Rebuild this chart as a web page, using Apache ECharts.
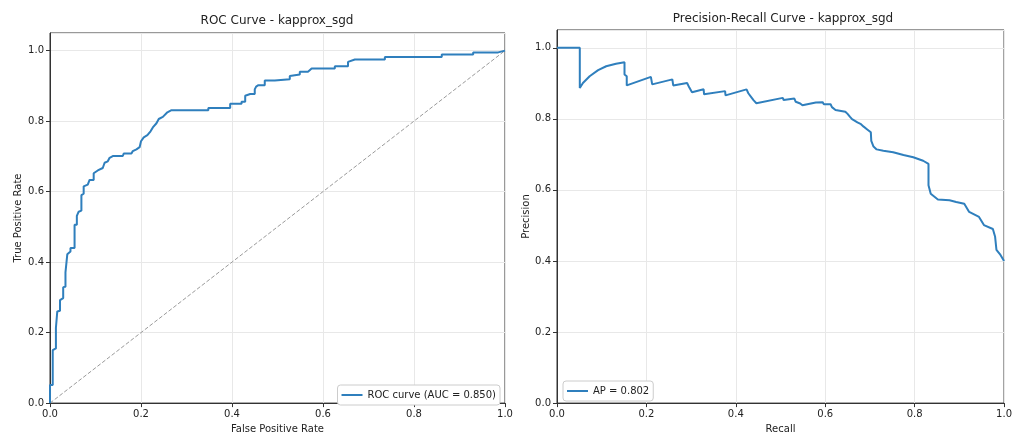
<!DOCTYPE html>
<html>
<head>
<meta charset="utf-8">
<script src="https://cdn.jsdelivr.net/npm/echarts@6/dist/echarts.min.js"></script>
<style>
  html, body { margin: 0; padding: 0; background: #fff; }
  #chart { width: 1015px; height: 439px; }
</style>
</head>
<body>
<div id="chart"></div>
<script>
// ROC 曲线顶点 (假阳率, 真阳率)
const rocFpr = [0, 0, 0.006, 0.006, 0.013, 0.013, 0.016, 0.016, 0.022, 0.022, 0.029, 0.029, 0.034, 0.034,
  0.038, 0.038, 0.045, 0.045, 0.054, 0.054, 0.059, 0.059, 0.063, 0.063, 0.069, 0.069, 0.074, 0.074, 0.083,
  0.087, 0.087, 0.096, 0.096, 0.1, 0.105, 0.109, 0.116, 0.12, 0.127, 0.131, 0.138, 0.16, 0.162, 0.179,
  0.182, 0.19, 0.197, 0.2, 0.206, 0.214, 0.221, 0.226, 0.234, 0.239, 0.248, 0.258, 0.267, 0.348, 0.348,
  0.396, 0.396, 0.421, 0.421, 0.429, 0.429, 0.44, 0.45, 0.45, 0.453, 0.458, 0.472, 0.472, 0.494, 0.494,
  0.527, 0.527, 0.549, 0.549, 0.567, 0.567, 0.575, 0.626, 0.626, 0.655, 0.655, 0.67, 0.736, 0.736, 0.861,
  0.861, 0.93, 0.93, 0.985, 0.985, 1.0];
const rocTpr = [0, 0.051, 0.051, 0.15, 0.155, 0.213, 0.213, 0.26, 0.262, 0.292, 0.298, 0.329, 0.33, 0.371,
  0.373, 0.422, 0.43, 0.44, 0.44, 0.506, 0.506, 0.531, 0.535, 0.543, 0.546, 0.59, 0.594, 0.615, 0.62,
  0.62, 0.633, 0.633, 0.652, 0.655, 0.66, 0.664, 0.667, 0.682, 0.686, 0.696, 0.701, 0.701, 0.708, 0.708,
  0.715, 0.72, 0.726, 0.743, 0.754, 0.76, 0.771, 0.782, 0.794, 0.806, 0.812, 0.825, 0.831, 0.831, 0.837,
  0.837, 0.849, 0.849, 0.855, 0.855, 0.872, 0.877, 0.877, 0.89, 0.898, 0.902, 0.902, 0.915, 0.915, 0.919,
  0.919, 0.928, 0.932, 0.94, 0.94, 0.945, 0.949, 0.949, 0.956, 0.956, 0.968, 0.975, 0.975, 0.982, 0.982,
  0.989, 0.989, 0.995, 0.995, 1.0, 1.0];
// 对角参考线
const diagX = [0, 1];
const diagY = [0, 1];
// PR 曲线顶点 (召回率, 精确率)
const prRecall = [0, 0.051, 0.051, 0.058, 0.073, 0.092, 0.11, 0.132, 0.151, 0.151, 0.156, 0.156, 0.21,
  0.213, 0.258, 0.26, 0.291, 0.296, 0.302, 0.328, 0.329, 0.376, 0.377, 0.424, 0.428, 0.434, 0.44, 0.446,
  0.505, 0.507, 0.531, 0.534, 0.544, 0.549, 0.579, 0.594, 0.597, 0.612, 0.615, 0.623, 0.627, 0.645, 0.65,
  0.655, 0.66, 0.672, 0.68, 0.686, 0.694, 0.702, 0.703, 0.708, 0.715, 0.73, 0.752, 0.775, 0.797, 0.808,
  0.819, 0.831, 0.831, 0.836, 0.852, 0.878, 0.893, 0.911, 0.922, 0.944, 0.955, 0.975, 0.98, 0.983, 0.992,
  1.0];
const prPrecision = [1.0, 1.0, 0.887, 0.901, 0.92, 0.937, 0.948, 0.955, 0.959, 0.925, 0.92, 0.894, 0.918,
  0.897, 0.911, 0.894, 0.901, 0.888, 0.875, 0.883, 0.869, 0.878, 0.866, 0.883, 0.872, 0.862, 0.852, 0.844,
  0.859, 0.853, 0.857, 0.848, 0.843, 0.838, 0.846, 0.847, 0.841, 0.841, 0.833, 0.825, 0.82, 0.82, 0.814,
  0.806, 0.799, 0.79, 0.785, 0.778, 0.77, 0.762, 0.738, 0.722, 0.714, 0.71, 0.706, 0.698, 0.692, 0.687,
  0.682, 0.673, 0.613, 0.589, 0.573, 0.571, 0.566, 0.561, 0.538, 0.524, 0.501, 0.49, 0.468, 0.431, 0.417,
  0.40];
// 刻度
const ticks = [0, 0.2, 0.4, 0.6, 0.8, 1.0];
const rocName = 'ROC curve (AUC = 0.850)';
const prName = 'AP = 0.802';

function zip(xs, ys) {
  return xs.map((x, i) => [x, ys[i]]);
}

const font = 'DejaVu Sans';
const textColor = '#222';
const lineColor = '#2f7fbd';

// 坐标轴公共配置
function axis(gridIndex, name, nameGap, max, isY) {
  return {
    type: 'value',
    gridIndex: gridIndex,
    min: 0,
    max: max,
    interval: 0.2,
    name: name,
    nameLocation: 'middle',
    nameGap: nameGap,
    nameTextStyle: { fontFamily: font, fontSize: 10, color: textColor },
    axisLine: { show: true, onZero: false, lineStyle: { color: '#333', width: 1 } },
    axisTick: { show: true, length: 4, lineStyle: { color: '#333' } },
    axisLabel: {
      fontFamily: font,
      fontSize: 10,
      color: textColor,
      margin: 6,
      showMaxLabel: isY ? false : true,
      formatter: function (v) {
        return ticks.some(t => Math.abs(t - v) < 1e-6) ? v.toFixed(1) : '';
      }
    },
    splitLine: { show: true, lineStyle: { color: '#e8e8e8', width: 1 } }
  };
}

// 图例公共配置
function legend(name, pos) {
  return Object.assign({
    data: [name],
    orient: 'vertical',
    icon: 'rect',
    itemWidth: 21, itemHeight: 2,
    padding: [5, 4, 5, 4],
    borderColor: '#ccc', borderWidth: 1, borderRadius: 3,
    backgroundColor: '#fff',
    textStyle: { fontFamily: font, fontSize: 10, color: textColor }
  }, pos);
}

const chart = echarts.init(document.getElementById('chart'), null, { renderer: 'canvas' });

const option = {
  backgroundColor: '#fff',
  animation: false,
  title: [
    {
      text: 'ROC Curve - kapprox_sgd',
      left: 277, top: 15, padding: 0, textAlign: 'center',
      textStyle: { fontFamily: font, fontSize: 12, fontWeight: 'normal', color: textColor }
    },
    {
      text: 'Precision-Recall Curve - kapprox_sgd',
      left: 783, top: 13, padding: 0, textAlign: 'center',
      textStyle: { fontFamily: font, fontSize: 12, fontWeight: 'normal', color: textColor }
    }
  ],
  grid: [
    { left: 50, top: 33, width: 455, height: 377, show: true, borderColor: '#333', borderWidth: 1 },
    { left: 557, top: 30, width: 452, height: 376, show: true, borderColor: '#333', borderWidth: 1 }
  ],
  legend: [
    legend(rocName, { right: 515, bottom: 34 }),
    legend(prName, { left: 563, bottom: 38 })
  ],
  xAxis: [
    axis(0, 'False Positive Rate', 20, 1, false),
    axis(1, 'Recall', 18, 1, false)
  ],
  yAxis: [
    axis(0, 'True Positive Rate', 27, 1.05, true),
    axis(1, 'Precision', 22, 1.05, true)
  ],
  series: [
    {
      name: 'diag',
      type: 'line',
      xAxisIndex: 0, yAxisIndex: 0,
      symbol: 'none',
      data: zip(diagX, diagY),
      lineStyle: { color: '#9a9a9a', width: 1, type: [4, 2] },
      silent: true
    },
    {
      name: rocName,
      type: 'line',
      xAxisIndex: 0, yAxisIndex: 0,
      symbol: 'none',
      color: lineColor,
      data: zip(rocFpr, rocTpr),
      lineStyle: { color: lineColor, width: 2 }
    },
    {
      name: prName,
      type: 'line',
      xAxisIndex: 1, yAxisIndex: 1,
      symbol: 'none',
      color: lineColor,
      data: zip(prRecall, prPrecision),
      lineStyle: { color: lineColor, width: 2 }
    }
  ]
};

chart.setOption(option);
</script>
</body>
</html>
